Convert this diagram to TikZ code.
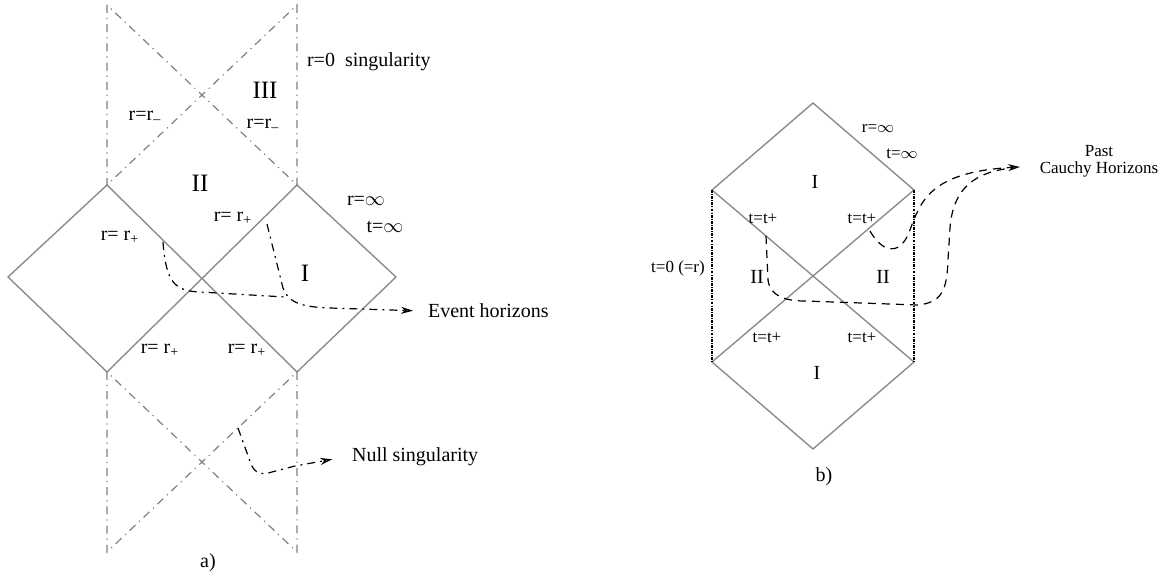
\documentclass[tikz,border=0pt]{standalone}
\usepackage{fontspec}
\setmainfont{Liberation Serif}
\usepackage{tikz}
\usetikzlibrary{arrows.meta}

\begin{document}
\begin{tikzpicture}[
  x=0.5pt,y=-0.5pt,
  font=\fontsize{10}{12}\selectfont,
  hor/.style={draw=black!45,line width=0.7pt},
  sing/.style={draw=black!50,line width=0.6pt,dash pattern=on 4pt off 2.5pt on 0.6pt off 2.5pt},
  wall/.style={draw=black,line width=1.3pt,dash pattern=on 1.4pt off 0.6pt on 0.5pt off 0.6pt},
  dd/.style={draw=black,line width=0.6pt,dash pattern=on 4pt off 2.5pt on 1pt off 2.5pt},
  dsh/.style={draw=black,line width=0.6pt,dash pattern=on 4pt off 3pt},
  tip/.style={-{Stealth[length=6pt,width=3.5pt,fill=black!55]}},
  reg/.style={font=\fontsize{12.5}{14}\selectfont},
  sml/.style={font=\fontsize{8.5}{10}\selectfont},
]
  \useasboundingbox (0,0) rectangle (1175,582);

  % a) diagram
  \coordinate (sTL) at (107,5);
  \coordinate (sTR) at (297,5);
  \coordinate (lt) at (107,185);
  \coordinate (rt) at (297,185);
  \coordinate (ll) at (8,277);
  \coordinate (rr) at (396,277);
  \coordinate (lb) at (107,372);
  \coordinate (rb) at (297,372);
  \coordinate (sBL) at (107,552);
  \coordinate (sBR) at (297,552);
  \draw[hor] (lt) -- (ll) -- (lb) -- (rt) -- (rr) -- (rb) -- cycle;
  \draw[sing] (sTL) -- (lt) -- (sTR) -- (rt) -- cycle;
  \draw[sing] (lb) -- (sBL) -- (rb) -- (sBR) -- cycle;

  \node[anchor=west] (sing0) at (300,62) {r=0\ \ singularity};
  \node[reg] (r3) at (265,90) {III};
  \node (rm1) at (145,117) {r=r\textsubscript{--}};
  \node (rm2) at (263,125) {r=r\textsubscript{--}};
  \node[reg] (r2) at (200,183) {II};
  \node (rp1) at (233,218) {r= r\textsubscript{+}};
  \node (rp2) at (120,237) {r= r\textsubscript{+}};
  \node (rinf) at (366,201) {r=$\infty$};
  \node (tinf) at (385,227) {t=$\infty$};
  \node[reg] (r1) at (305,273) {I};
  \node (rp3) at (160,350) {r= r\textsubscript{+}};
  \node (rp4) at (247,350) {r= r\textsubscript{+}};
  \node[anchor=west] (eh) at (421,311) {Event horizons};
  \node[anchor=west] (ns) at (345,457) {Null singularity};
  \node (la) at (208,563) {a)};

  \coordinate (e1) at (163,242);
  \coordinate (e2) at (267,224);
  \coordinate (n1) at (238,428);
  \draw[dd] (e1) .. controls (166,283) and (175,291) .. (200,292) -- (285,297);
  \draw[dd,tip,shorten >=4pt] (e2) -- (283,288) .. controls (288,302) and (300,307) .. (330,308) -- (eh.west);
  \draw[dd,tip,shorten >=6.5pt] (n1) -- (251,464) .. controls (255,474) and (262,475) .. (272,472) -- (295,466) -- (ns.west);

  % b) diagram
  \coordinate (t) at (813,103);
  \coordinate (ul) at (712,190);
  \coordinate (ur) at (914,190);
  \coordinate (dl) at (712,362);
  \coordinate (dr) at (914,362);
  \coordinate (b) at (813,449);
  \draw[hor] (ul) -- (t) -- (ur) -- (dl) -- (b) -- (dr) -- cycle;
  \draw[wall] (ul) -- (dl) (ur) -- (dr);

  \node[sml] (rinf2) at (878,129) {r=$\infty$};
  \node[sml] (tinf2) at (902,154) {t=$\infty$};
  \node (u1) at (815,182) {I};
  \node[sml] (tp1) at (763,219) {t=t+};
  \node[sml] (tp2) at (862,219) {t=t+};
  \node[sml] (t0) at (678,268) {t=0 (=r)};
  \node (u2) at (757,277) {II};
  \node (u3) at (883,277) {II};
  \node[sml] (tp3) at (767,338) {t=t+};
  \node[sml] (tp4) at (862,338) {t=t+};
  \node (u4) at (817,373) {I};
  \node (lb2) at (824,477) {b)};
  \node[font=\fontsize{8.5}{8.5}\selectfont,align=center] (pc) at (1099,161) {Past\\Cauchy Horizons};

  \coordinate (ca) at (870,231);
  \coordinate (cb) at (766,236);
  \coordinate (ph) at (1020,167);
  \draw[dsh,tip] (ca) .. controls (882,252) and (898,256) .. (908,235) .. controls (920,205) and (925,172) .. (ph);
  \draw[dsh] (cb) -- (768,280) .. controls (770,296) and (785,301) .. (805,301) -- (917,305) .. controls (942,303) and (947,290) .. (948,260) -- (950,228) .. controls (953,188) and (975,172) .. (1012,168);
\end{tikzpicture}
\end{document}
